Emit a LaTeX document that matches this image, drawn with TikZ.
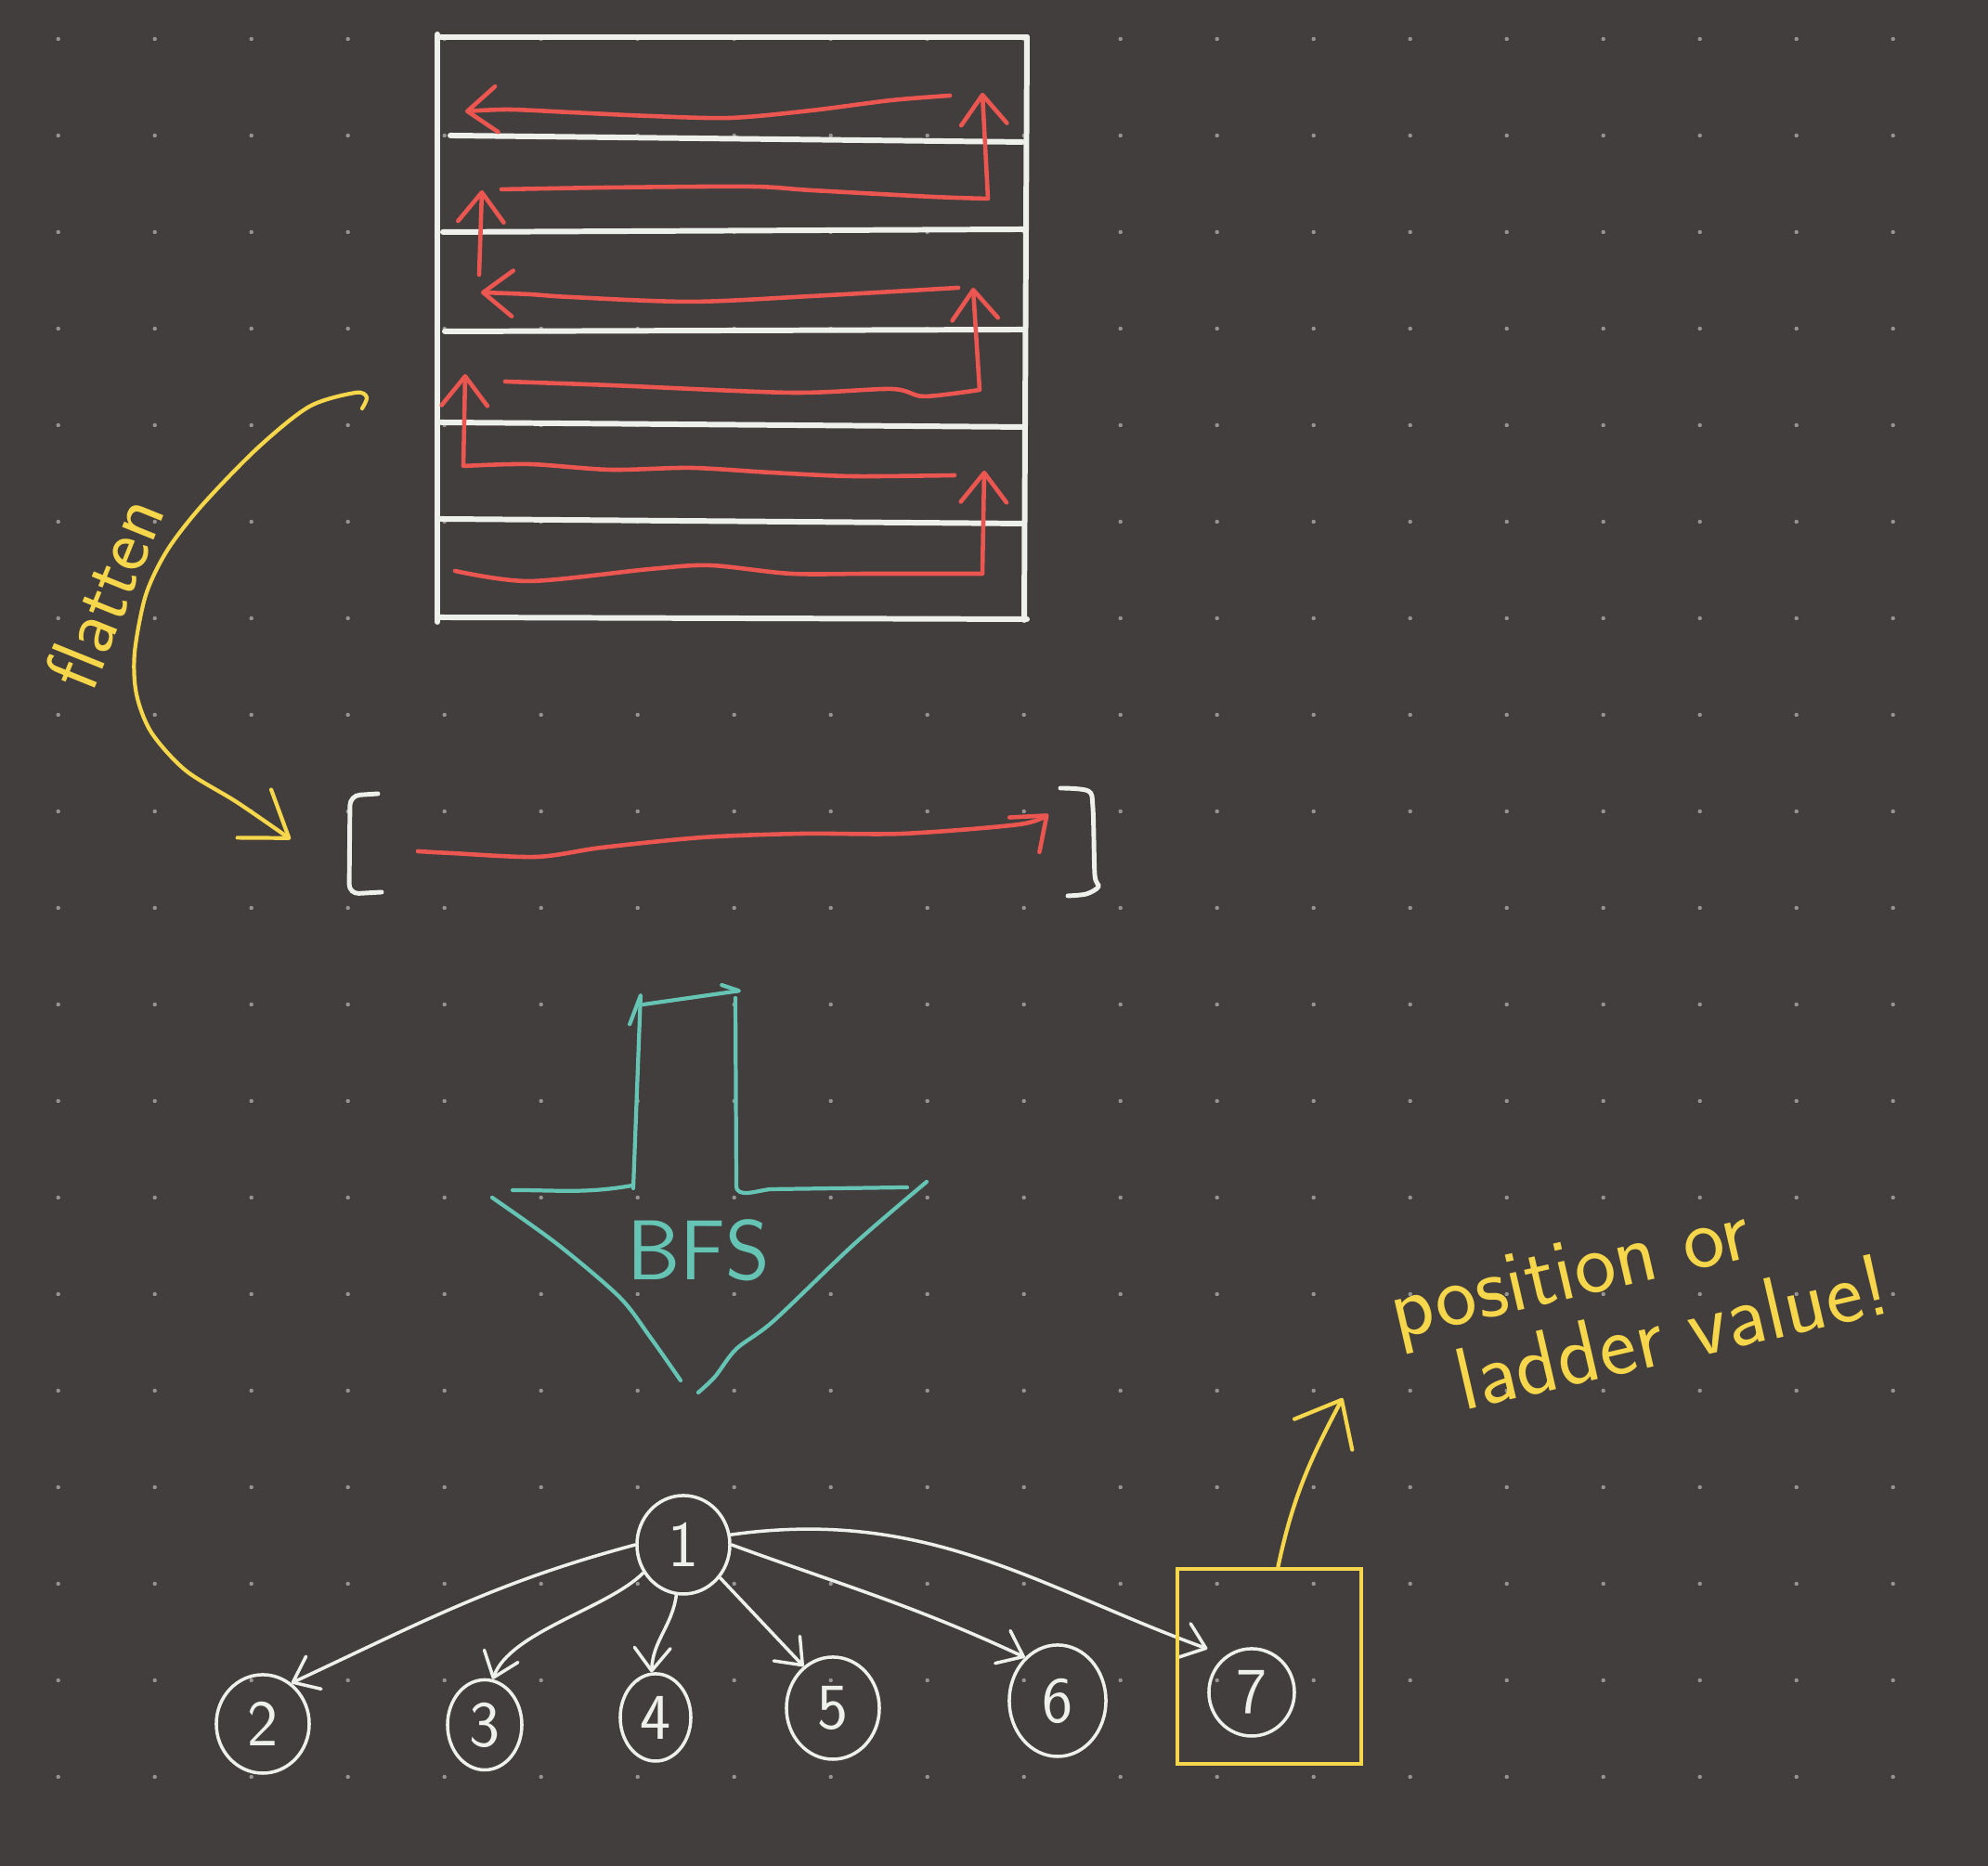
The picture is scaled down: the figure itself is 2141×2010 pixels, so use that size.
\documentclass[tikz,border=0pt]{standalone}
\usepackage{tikz}
\usetikzlibrary{arrows.meta,shapes.geometric}
\definecolor{fondsombre}{RGB}{66,62,61}
\definecolor{pointille}{RGB}{152,150,148}
\definecolor{craie}{RGB}{238,240,236}
\definecolor{feutrerouge}{RGB}{236,86,80}
\definecolor{feutrejaune}{RGB}{246,214,74}
\definecolor{turquoise}{RGB}{102,196,180}

\begin{document}
\begin{tikzpicture}[x=0.01cm,y=0.01cm,
  grille/.style={craie, line width=1.7pt, line cap=round},
  serpent/.style={feutrerouge, line width=1.3pt, line cap=round, line join=round,
    -{Straight Barb[round,length=9pt,width=14pt]}},
  jaune/.style={feutrejaune, line width=1.2pt, line cap=round, line join=round},
  vert/.style={turquoise, line width=1.2pt, line cap=round, line join=round},
  sommet/.style={draw=craie, ellipse, line width=1pt, inner sep=0pt,
    minimum width=1cm, minimum height=1.06cm, text=craie,
    font=\sffamily\fontsize{20}{24}\selectfont},
  arete/.style={craie, line width=1pt, line cap=round,
    -{Straight Barb[round,length=7pt,width=11pt]}},
  manuscrit/.style={inner sep=0pt, font=\sffamily\fontsize{27}{26}\selectfont}]

% Fond et points
\fill[fondsombre] (0,0) rectangle (2141,2010);
\useasboundingbox (0,0) rectangle (2141,2010);
\foreach \i in {0,...,19}
  \foreach \j in {0,...,18}
    \fill[pointille] ({62.7+104*\i},{1968-104*\j}) circle (2.2);

% Grille (tableau 2D)
\draw[grille] (471,1973) -- (471,1340);
\draw[grille] (1106,1970) -- (1103,1342);
\draw[grille] (473,1970) -- (1106,1970);
\draw[grille] (485,1864) -- (1101,1857);
\draw[grille] (477,1760) -- (1103,1763);
\draw[grille] (479,1653) -- (1103,1655);
\draw[grille] (475,1555) -- (1103,1550);
\draw[grille] (475,1451) -- (1103,1446);
\draw[grille] (471,1345) -- (1106,1343);

% Parcours en serpentin, du bas vers le haut
\draw[serpent] plot[smooth,tension=0.5] coordinates {(490,1395) (570,1384) (700,1397) (765,1401) (852,1392) (939,1392) (1058,1392)} -- (1060,1503);
\draw[serpent] plot[smooth,tension=0.5] coordinates {(1028,1498) (917,1497) (830,1501) (744,1506) (657,1504) (570,1510) (499,1508)} -- (501,1607);
\draw[serpent] plot[smooth,tension=0.5] coordinates {(544,1599) (657,1595) (852,1587) (960,1591) (995,1583) (1055,1590)} -- (1048,1700);
\draw[serpent] plot[smooth,tension=0.5] coordinates {(1032,1700) (874,1691) (744,1685) (614,1690) (570,1693) (518,1695)};
\draw[serpent] (516,1714) -- (519,1805);
\draw[serpent] plot[smooth,tension=0.5] coordinates {(540,1806) (657,1808) (809,1809) (874,1805) (1004,1798) (1064,1796)} -- (1058,1910);
\draw[serpent] plot[smooth,tension=0.5] coordinates {(1023,1907) (960,1902) (874,1891) (787,1883) (700,1885) (614,1889) (548,1892) (501,1890)};

% Fleche "flatten"
\draw[jaune, -{Straight Barb[round,length=13pt,width=18pt]}] plot[smooth,tension=0.5] coordinates {(390,1570) (395,1582) (383,1587) (333,1572) (277,1527) (217,1465) (180,1417) (157,1369) (145,1307) (147,1262) (163,1221) (200,1180) (255,1146) (313,1106)};
\node[manuscrit, feutrejaune, rotate=68, font=\sffamily\fontsize{24}{28}\selectfont] (flatlbl) at (112,1372) {flatten};

% Tableau aplati
\draw[grille, line width=1.4pt, rounded corners=3pt] (407,1155) -- (377,1153) -- (376,1047) -- (411,1049);
\draw[grille, line width=1.4pt] plot[smooth,tension=0.5] coordinates {(1142,1161) (1172,1158) (1177,1140) (1179,1068) (1183,1055) (1170,1047) (1150,1045)};
\draw[serpent] plot[smooth,tension=0.5] coordinates {(450,1093) (486,1091) (578,1087) (648,1097) (757,1108) (865,1112) (973,1112) (1098,1122) (1129,1133)};

% Grosse fleche BFS
\draw[vert] (552,728) to[out=0,in=190] (681,733);
\draw[vert, -{Straight Barb[round,left,length=9pt,width=6pt]}] (682,730) -- (690,940);
\draw[vert, -{Straight Barb[round,left,length=5pt,width=5pt]}] (693,928) -- (798,943);
\draw[vert] (792,935) -- (793,733) to[out=-90,in=185] (830,729) -- (977,731);
\draw[vert] plot[smooth,tension=0.5] coordinates {(530,720) (600,670) (667,613) (700,570) (733,523)};
\draw[vert] plot[smooth,tension=0.5] coordinates {(998,737) (920,670) (833,587) (793,557) (770,527) (752,510)};
\node[manuscrit, turquoise, font=\sffamily\fontsize{26}{30}\selectfont] (bfslbl) at (752,663) {BFS};

% Arbre obtenu
\node[sommet] (n1) at (736,346) {1};
\node[sommet] (n2) at (283,153) {2};
\node[sommet, minimum width=0.8cm, minimum height=0.97cm] (n3) at (522,152) {3};
\node[sommet, minimum width=0.76cm, minimum height=0.94cm] (n4) at (706,160) {4};
\node[sommet, minimum height=1.1cm] (n5) at (897,170) {5};
\node[sommet, minimum width=1.04cm, minimum height=1.2cm] (n6) at (1139,178) {6};
\node[sommet, minimum width=0.92cm, minimum height=0.94cm] (n7) at (1348,187) {7};

\draw[arete] (n1.180) to[out=195,in=25] (n2.55);
\draw[arete] (n1.215) to[out=225,in=70,looseness=0.7] (n3.80);
\draw[arete] (n1.262) to[out=262,in=88] (n4.95);
\draw[arete] (n1.318) -- (n5.125);
\draw[arete] (n1.0) to[out=-20,in=155] (n6.127);
\draw[arete, shorten >=6pt] (n1.12) to[out=8,in=160] (n7.125);

% Cadre jaune et remarque
\node[draw=feutrejaune, line width=1.1pt, minimum width=1.98cm, minimum height=2.1cm] (surlig) at (1367,215) {};
\coordinate (notetip) at (1446,504);
\draw[jaune, -{Straight Barb[round,length=12pt,width=20pt]}] (surlig.85) to[out=78,in=242] (notetip);
\node[manuscrit, feutrejaune, rotate=13, align=left] (note) at (1765,612) {position or\\\hspace*{15pt}ladder value!};
\end{tikzpicture}
\end{document}
